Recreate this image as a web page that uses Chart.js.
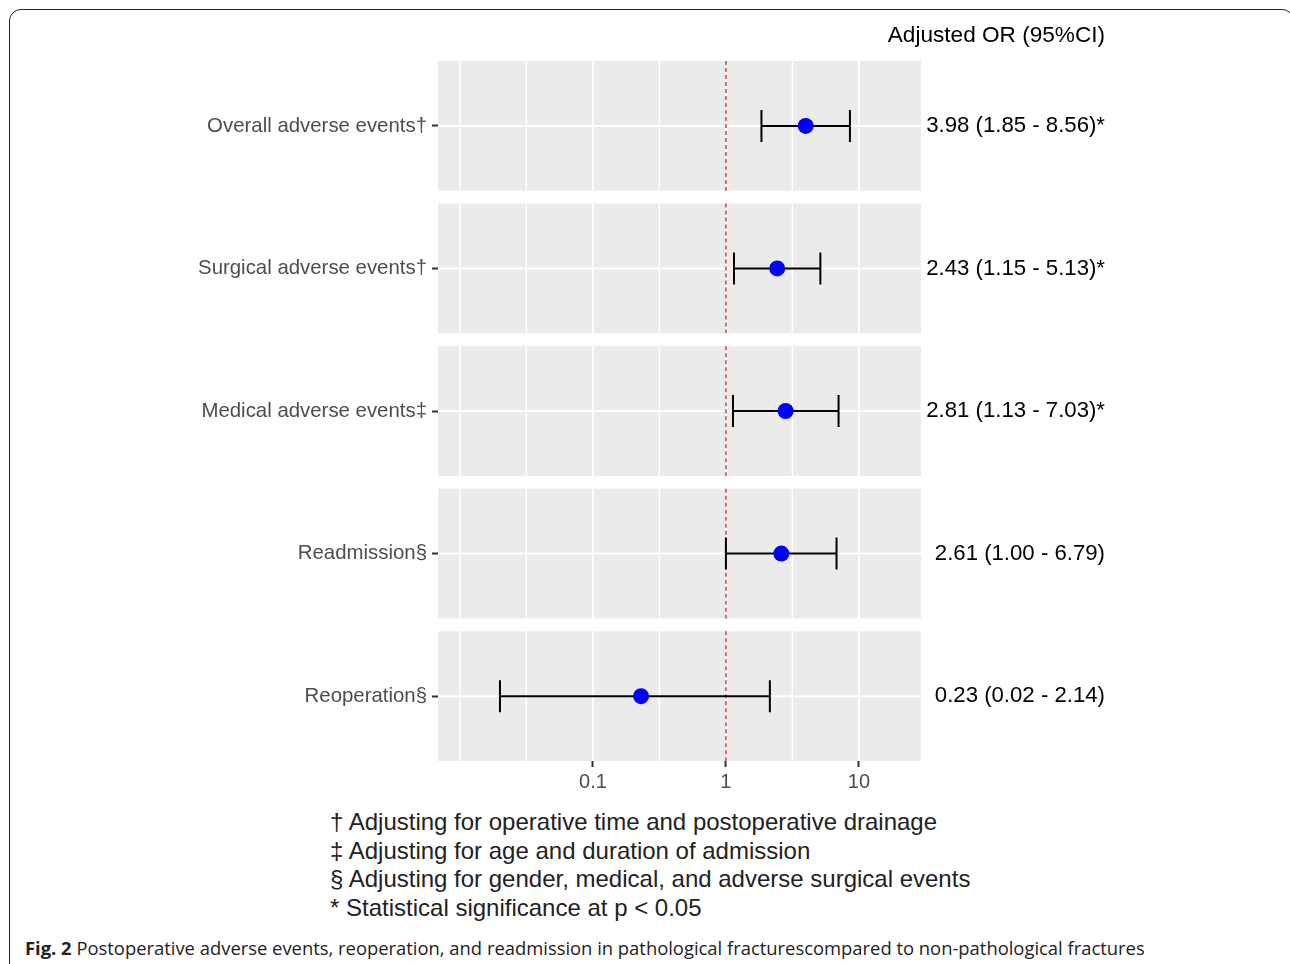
<!DOCTYPE html>
<html>
<head>
<meta charset="utf-8">
<script src="https://cdn.jsdelivr.net/npm/chart.js@4.4.1/dist/chart.umd.min.js"></script>
<style>
body { margin: 0; background: #fff; width: 1290px; height: 964px; overflow: hidden; position: relative; }
#frame { position: absolute; left: 9px; top: 9px; width: 1283px; height: 1000px; border: 1.5px solid #222; border-radius: 12px; }
#orChart { position: absolute; left: 0; top: 0; }
#notes { position: absolute; left: 330px; top: 808px; font-family: 'Liberation Sans', Arial, sans-serif; font-size: 24px; line-height: 28.7px; color: #222; }
#caption { position: absolute; left: 25px; top: 935px; font-family: 'Open Sans', sans-serif; font-size: 18.4px; color: #222; white-space: nowrap; }
</style>
</head>
<body>
<div id="frame"></div>
<canvas id="orChart" width="1290" height="800"></canvas>
<div id="notes">
	† Adjusting for operative time and postoperative drainage<br>
	‡ Adjusting for age and duration of admission<br>
	§ Adjusting for gender, medical, and adverse surgical events<br>
	* Statistical significance at p &lt; 0.05
</div>
<div id="caption"><b>Fig. 2</b> Postoperative adverse events, reoperation, and readmission in pathological fracturescompared to non-pathological fractures</div>
<script>
var outcomes = ['Overall adverse events†', 'Surgical adverse events†', 'Medical adverse events‡', 'Readmission§', 'Reoperation§'];
var oddsRatio = [3.98, 2.43, 2.81, 2.61, 0.23];
var ciLow = [1.85, 1.15, 1.13, 1.00, 0.02];
var ciHigh = [8.56, 5.13, 7.03, 6.79, 2.14];
var orText = ['3.98 (1.85 - 8.56)*', '2.43 (1.15 - 5.13)*', '2.81 (1.13 - 7.03)*', '2.61 (1.00 - 6.79)', '0.23 (0.02 - 2.14)'];
var xMajor = [0.1, 1, 10];
var xMinor = [0.01, 0.0316, 0.316, 3.16];

var PANEL_HALF = 0.455;

// grey facet panels, white grid, dashed reference line and the CI whiskers
var forestPanels = {
	id: 'forestPanels',
	beforeDatasetsDraw: function(chart){
		var ctx = chart.ctx;
		var xs = chart.scales.x;
		var ys = chart.scales.y;
		var area = chart.chartArea;
		for (var i = 0; i < outcomes.length; i++) {
			var top = ys.getPixelForValue(i + 1 - PANEL_HALF);
			var bottom = ys.getPixelForValue(i + 1 + PANEL_HALF);
			var yc = ys.getPixelForValue(i + 1);
			ctx.save();
			ctx.fillStyle = '#ebebeb';
			ctx.fillRect(area.left, top, area.right - area.left, bottom - top);
			ctx.strokeStyle = '#ffffff';
			ctx.lineWidth = 1.5;
			xMinor.forEach(function(v){
				var px = xs.getPixelForValue(v);
				ctx.beginPath(); ctx.moveTo(px, top); ctx.lineTo(px, bottom); ctx.stroke();
			});
			ctx.lineWidth = 2;
			xMajor.forEach(function(v){
				var px = xs.getPixelForValue(v);
				ctx.beginPath(); ctx.moveTo(px, top); ctx.lineTo(px, bottom); ctx.stroke();
			});
			ctx.beginPath(); ctx.moveTo(area.left, yc); ctx.lineTo(area.right, yc); ctx.stroke();

			var one = xs.getPixelForValue(1);
			ctx.strokeStyle = '#d41c1c';
			ctx.lineWidth = 1.3;
			ctx.setLineDash([4, 3]);
			ctx.beginPath(); ctx.moveTo(one, top); ctx.lineTo(one, bottom); ctx.stroke();
			ctx.setLineDash([]);

			var x1 = xs.getPixelForValue(ciLow[i]);
			var x2 = xs.getPixelForValue(ciHigh[i]);
			ctx.strokeStyle = '#000000';
			ctx.lineWidth = 2;
			ctx.beginPath();
			ctx.moveTo(x1, yc); ctx.lineTo(x2, yc);
			ctx.moveTo(x1, yc - 16); ctx.lineTo(x1, yc + 16);
			ctx.moveTo(x2, yc - 16); ctx.lineTo(x2, yc + 16);
			ctx.stroke();
			ctx.restore();
		}
	}
};

var rowTicks = function(scale){
	scale.ticks = outcomes.map(function(o, i){ return { value: i + 1 }; });
};

var ctx = document.getElementById('orChart').getContext('2d');
var graph = new Chart(ctx, {
	type: 'scatter',
	data: {
		datasets: [{
			label: 'Adjusted OR',
			data: oddsRatio.map(function(v, i){ return { x: v, y: i + 1 }; }),
			backgroundColor: '#0000ff',
			borderWidth: 0,
			pointRadius: 8,
			pointHoverRadius: 8
		}]
	},
	options: {
		responsive: false,
		animation: false,
		layout: { padding: { left: 0, right: 185, top: 0, bottom: 0 } },
		scales: {
			x: {
				type: 'logarithmic',
				min: 0.00684,
				max: 29.3,
				afterBuildTicks: function(scale){
					scale.ticks = xMajor.map(function(v){ return { value: v }; });
				},
				afterFit: function(scale){ scale.height = 39; },
				ticks: {
					color: '#4d4d4d',
					font: { family: 'Liberation Sans', size: 20 },
					padding: 3,
					maxRotation: 0,
					callback: function(v){ return String(v); }
				},
				grid: { drawOnChartArea: false, drawTicks: true, tickLength: 6, tickColor: '#333', tickWidth: 2 },
				border: { display: false }
			},
			y: {
				type: 'linear',
				position: 'left',
				reverse: true,
				min: 1 - PANEL_HALF,
				max: outcomes.length + PANEL_HALF,
				afterBuildTicks: rowTicks,
				afterFit: function(scale){ scale.width = 438; },
				ticks: {
					color: '#4d4d4d',
					font: { family: 'Liberation Sans', size: 20.4 },
					padding: 5,
					callback: function(v){ return outcomes[v - 1]; }
				},
				grid: { drawOnChartArea: false, drawTicks: true, tickLength: 6, tickColor: '#333', tickWidth: 2 },
				border: { display: false }
			},
			yr: {
				type: 'linear',
				position: 'right',
				reverse: true,
				min: 1 - PANEL_HALF,
				max: outcomes.length + PANEL_HALF,
				afterBuildTicks: rowTicks,
				afterFit: function(scale){ scale.width = 184; },
				ticks: {
					color: '#000',
					font: { family: 'Liberation Sans', size: 22.2 },
					padding: 5,
					crossAlign: 'far',
					callback: function(v){ return orText[v - 1]; }
				},
				grid: { display: false, drawTicks: false },
				border: { display: false }
			}
		},
		plugins: {
			legend: { display: false },
			tooltip: { enabled: false },
			title: {
				display: true,
				text: 'Adjusted OR (95%CI)',
				align: 'end',
				color: '#000',
				font: { family: 'Liberation Sans', size: 22.6, weight: 'normal' },
				padding: { top: 22, bottom: 11.9 }
			}
		}
	},
	plugins: [forestPanels]
});
</script>
</body>
</html>
